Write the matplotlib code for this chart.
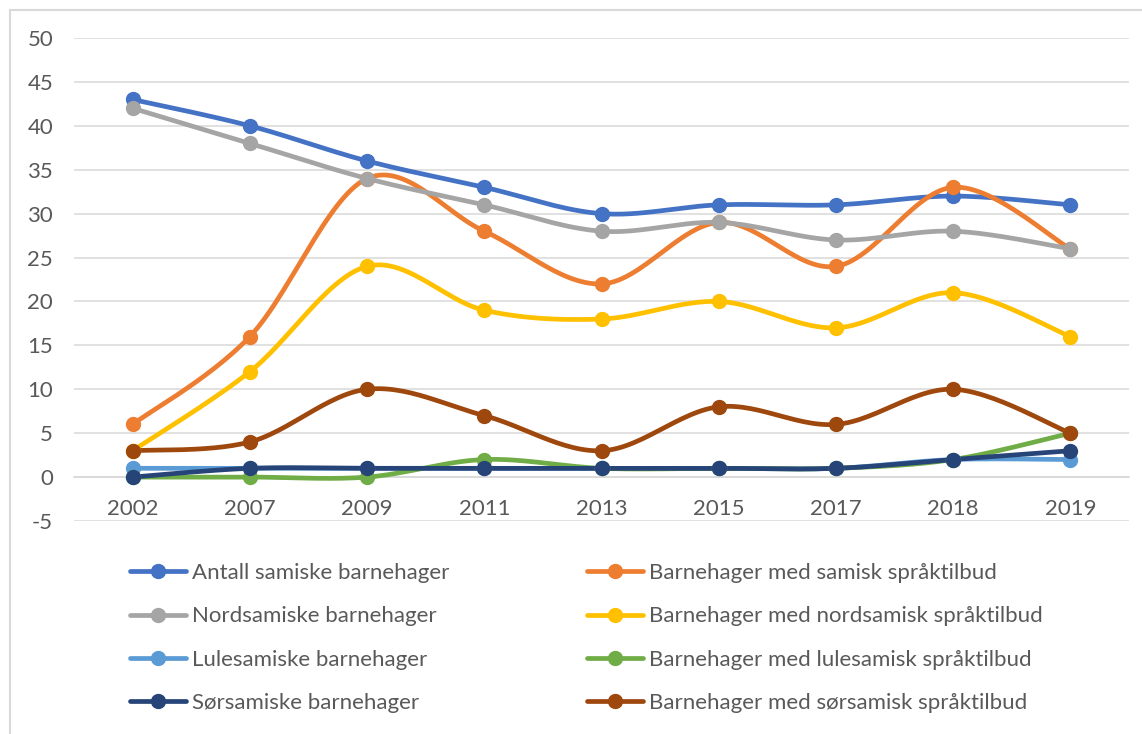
import numpy as np
import matplotlib
matplotlib.use("Agg")
import matplotlib.pyplot as plt
from matplotlib.lines import Line2D

years = ["2002", "2007", "2009", "2011", "2013", "2015", "2017", "2018", "2019"]

antall_samiske = [43, 40, 36, 33, 30, 31, 31, 32, 31]
med_samisk = [6, 16, 34, 28, 22, 29, 24, 33, 26]
nordsamiske = [42, 38, 34, 31, 28, 29, 27, 28, 26]
med_nordsamisk = [3, 12, 24, 19, 18, 20, 17, 21, 16]
lulesamiske = [1, 1, 1, 1, 1, 1, 1, 2, 2]
med_lulesamisk = [0, 0, 0, 2, 1, 1, 1, 2, 5]
sorsamiske = [0, 1, 1, 1, 1, 1, 1, 2, 3]
med_sorsamisk = [3, 4, 10, 7, 3, 8, 6, 10, 5]

series = [
    ("Antall samiske barnehager", antall_samiske, "#4472C4"),
    ("Barnehager med samisk språktilbud", med_samisk, "#ED7D31"),
    ("Nordsamiske barnehager", nordsamiske, "#A5A5A5"),
    ("Barnehager med nordsamisk språktilbud", med_nordsamisk, "#FFC000"),
    ("Lulesamiske barnehager", lulesamiske, "#5B9BD5"),
    ("Barnehager med lulesamisk språktilbud", med_lulesamisk, "#70AD47"),
    ("Sørsamiske barnehager", sorsamiske, "#264478"),
    ("Barnehager med sørsamisk språktilbud", med_sorsamisk, "#9E480E"),
]

FONT = "Lato"
FS = 16
TXT = "#595959"
GRID = "#D9D9D9"


def smooth(x, y, n=30):
    """Catmull-Rom (Excel-style) smoothing through the data points."""
    x = np.asarray(x, float)
    y = np.asarray(y, float)
    px = np.concatenate([[x[0]], x, [x[-1]]])
    py = np.concatenate([[y[0]], y, [y[-1]]])
    xs, ys = [], []
    t = np.linspace(0, 1, n)
    for i in range(1, len(px) - 2):
        p0x, p1x, p2x, p3x = px[i - 1], px[i], px[i + 1], px[i + 2]
        p0y, p1y, p2y, p3y = py[i - 1], py[i], py[i + 1], py[i + 2]
        c1x = p1x + (p2x - p0x) / 6
        c1y = p1y + (p2y - p0y) / 6
        c2x = p2x - (p3x - p1x) / 6
        c2y = p2y - (p3y - p1y) / 6
        bx = (1 - t) ** 3 * p1x + 3 * (1 - t) ** 2 * t * c1x + 3 * (1 - t) * t ** 2 * c2x + t ** 3 * p2x
        by = (1 - t) ** 3 * p1y + 3 * (1 - t) ** 2 * t * c1y + 3 * (1 - t) * t ** 2 * c2y + t ** 3 * p2y
        xs.append(bx)
        ys.append(by)
    return np.concatenate(xs), np.concatenate(ys)


W, H = 1142, 734
fig = plt.figure(figsize=(W / 100, H / 100), dpi=100)
ax = fig.add_axes([74 / W, 1 - 521 / H, (1129 - 74) / W, (521 - 38) / H])

x = np.arange(len(years))
LW = 3.4
MS = 10
handles = {}
for name, vals, col in series:
    sx, sy = smooth(x, vals)
    ax.plot(sx, sy, color=col, lw=LW, solid_capstyle="round", zorder=3)
    ax.plot(x, vals, "o", color=col, ms=MS, zorder=4)
    handles[name] = Line2D([], [], color=col, lw=LW, marker="o", ms=MS,
                           solid_capstyle="round")

for s in ["top", "right", "left"]:
    ax.spines[s].set_visible(False)
ax.spines["bottom"].set_position(("data", 0))
ax.spines["bottom"].set_color(GRID)
ax.spines["bottom"].set_linewidth(1.1)

ax.set_xlim(-0.5, len(years) - 0.5)
ax.set_ylim(-5, 50)
ax.set_yticks(np.arange(-5, 51, 5))
ax.set_yticklabels([str(v) for v in range(-5, 51, 5)])
ax.set_xticks(x)
ax.set_xticklabels(years)
for lab in ax.get_xticklabels() + ax.get_yticklabels():
    lab.set_fontfamily(FONT)
    lab.set_fontsize(FS)
    lab.set_color(TXT)
ax.grid(axis="y", color=GRID, lw=1.1, zorder=0)
ax.tick_params(axis="y", length=0, pad=15)
ax.tick_params(axis="x", length=0, pad=16)
ax.set_axisbelow(True)

col1 = [series[i][0] for i in (0, 2, 4, 6)]
col2 = [series[i][0] for i in (1, 3, 5, 7)]
legkw = dict(frameon=False, prop={"family": FONT, "size": FS},
             labelcolor=TXT, handlelength=2.5, handletextpad=0.3,
             labelspacing=1.05, borderpad=0, borderaxespad=0,
             loc="upper left")
fig.legend([handles[n] for n in col1], col1,
           bbox_to_anchor=(130 / W, 1 - 563 / H), **legkw)
fig.legend([handles[n] for n in col2], col2,
           bbox_to_anchor=(587 / W, 1 - 563 / H), **legkw)

# chart border (left and top edges visible)
fig.add_artist(Line2D([10 / W, 10 / W], [0, 1 - 10 / H], color=GRID, lw=1.5,
                      transform=fig.transFigure))
fig.add_artist(Line2D([10 / W, 1], [1 - 10 / H, 1 - 10 / H], color=GRID, lw=1.5,
                      transform=fig.transFigure))

fig.savefig("out.png", dpi=100)
